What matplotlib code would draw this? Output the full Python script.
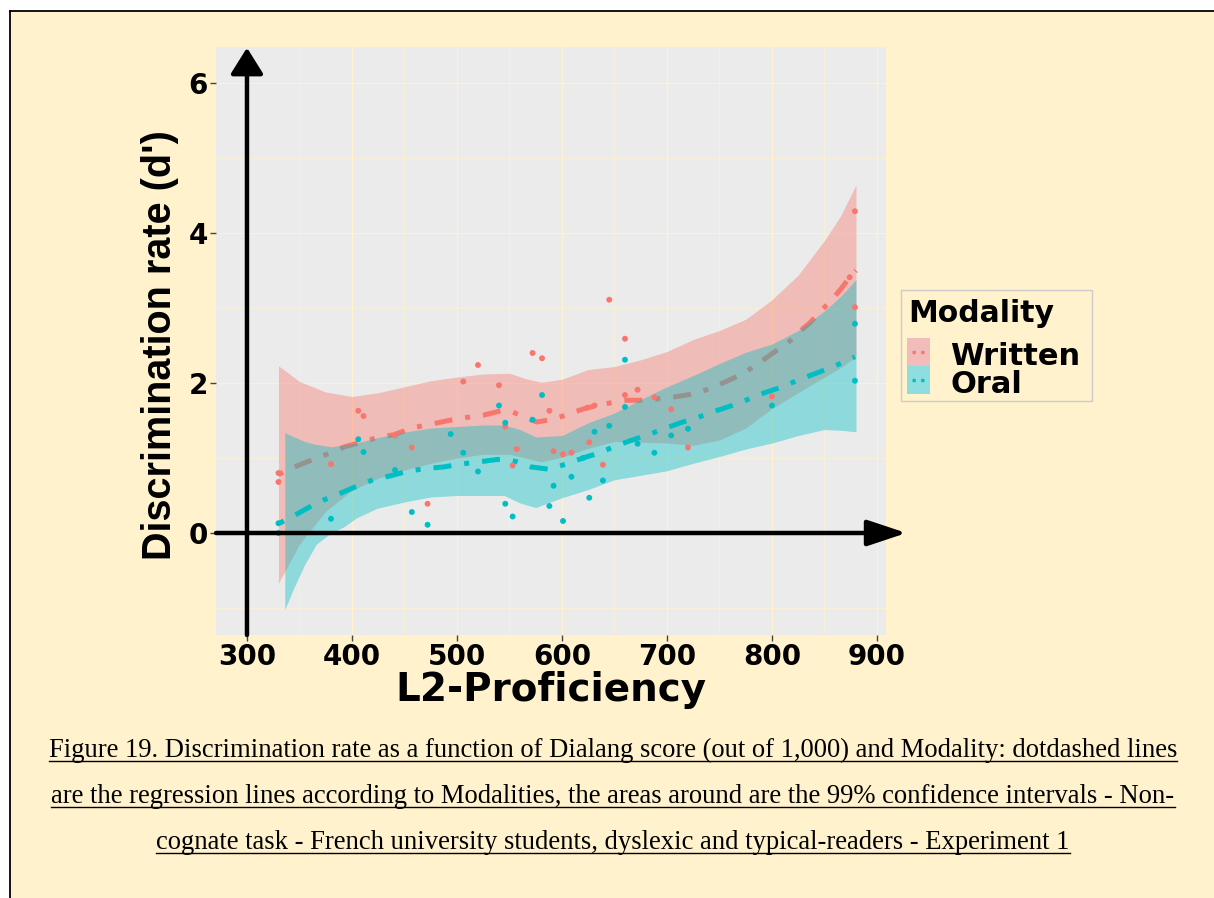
import matplotlib
matplotlib.use('Agg')
import matplotlib.pyplot as plt
from matplotlib import font_manager as fm
from matplotlib.lines import Line2D
from matplotlib.patches import Rectangle

# raw scores: Dialang score (x) vs d' (y), one list per modality
written_x = [330, 330, 380, 406, 411, 441, 457, 472, 506, 520, 540, 546, 553, 557,
             572, 581, 588, 592, 601, 609, 624, 626, 631, 639, 645, 660, 660, 672,
             688, 704, 720, 800, 874, 879, 879]
written_y = [0.68, 0.80, 0.92, 1.63, 1.56, 1.30, 1.14, 0.39, 2.02, 2.24, 1.97, 1.42, 0.90, 1.12,
             2.40, 2.33, 1.63, 1.09, 1.05, 1.07, 1.67, 1.21, 1.70, 0.91, 3.11, 2.59, 1.84, 1.91,
             1.81, 1.65, 1.14, 1.82, 3.41, 4.29, 3.01]
oral_x = [330, 330, 380, 406, 411, 441, 457, 472, 494, 506, 520, 540, 546, 546, 553,
          572, 581, 588, 592, 601, 609, 620, 626, 631, 639, 645, 660, 660, 672,
          688, 704, 720, 800, 879, 879]
oral_y = [0.00, 0.13, 0.19, 1.25, 1.08, 0.84, 0.28, 0.11, 1.32, 1.07, 0.82, 1.70, 1.47, 0.39, 0.22,
          1.51, 1.84, 0.36, 0.63, 0.16, 0.75, 1.00, 0.47, 1.35, 0.70, 1.43, 2.31, 1.68, 1.19,
          1.07, 1.30, 1.39, 1.70, 2.79, 2.03]

# loess fits and 99% bands
written_fit_x = [330, 345, 363, 378, 393, 409, 426, 440, 457, 475, 492, 509, 525, 542, 552,
                 560, 576, 593, 609, 624, 641, 658, 675, 692, 710, 727, 742, 758, 773, 787,
                 801, 814, 824, 836, 846, 857, 866, 874, 880]
written_fit_y = [0.78, 0.88, 0.98, 1.06, 1.15, 1.21, 1.28, 1.31, 1.40, 1.45, 1.50, 1.54, 1.57, 1.63, 1.62,
                 1.57, 1.48, 1.52, 1.60, 1.67, 1.72, 1.77, 1.77, 1.79, 1.82, 1.86, 1.93, 2.03, 2.13, 2.26,
                 2.40, 2.52, 2.66, 2.80, 2.95, 3.11, 3.26, 3.41, 3.50]
written_band_x = [330, 350, 375, 400, 425, 450, 475, 500, 525, 550, 565, 580, 600, 625, 650,
                  675, 700, 725, 750, 775, 800, 825, 850, 865, 880]
written_lo = [-0.67, -0.15, 0.29, 0.57, 0.73, 0.84, 0.93, 1.00, 1.05, 1.05, 1.00, 0.95, 1.01, 1.13, 1.22,
              1.21, 1.20, 1.17, 1.24, 1.40, 1.66, 1.87, 2.08, 2.20, 2.35]
written_hi = [2.23, 2.02, 1.88, 1.82, 1.87, 1.95, 2.03, 2.08, 2.12, 2.13, 2.06, 2.01, 2.05, 2.18, 2.22,
              2.31, 2.42, 2.58, 2.70, 2.85, 3.11, 3.44, 3.90, 4.22, 4.64]

oral_fit_x = [331, 346, 360, 373, 389, 404, 420, 436, 452, 470, 487, 504, 522, 538, 548,
              557, 571, 588, 604, 620, 636, 651, 667, 684, 699, 715, 731, 747, 762, 777,
              793, 810, 825, 842, 857, 873, 879]
oral_fit_y = [0.13, 0.24, 0.35, 0.44, 0.53, 0.62, 0.71, 0.76, 0.82, 0.86, 0.88, 0.92, 0.95, 0.98, 0.98,
              0.95, 0.88, 0.85, 0.92, 1.00, 1.07, 1.16, 1.24, 1.32, 1.40, 1.48, 1.55, 1.63, 1.70, 1.78,
              1.87, 1.95, 2.04, 2.13, 2.21, 2.31, 2.35]
oral_band_x = [336, 345, 355, 366, 380, 392, 404, 424, 452, 475, 500, 525, 545, 560, 575,
               600, 625, 650, 675, 700, 725, 750, 775, 800, 825, 850, 865, 880]
oral_lo = [-1.02, -0.72, -0.42, -0.15, 0.00, 0.08, 0.20, 0.33, 0.42, 0.48, 0.50, 0.50, 0.50, 0.40, 0.34,
           0.47, 0.58, 0.71, 0.77, 0.83, 0.93, 1.02, 1.12, 1.20, 1.30, 1.38, 1.37, 1.35]
oral_hi = [1.34, 1.28, 1.22, 1.18, 1.15, 1.17, 1.20, 1.27, 1.35, 1.40, 1.42, 1.44, 1.44, 1.38, 1.28,
           1.30, 1.47, 1.60, 1.78, 1.95, 2.10, 2.26, 2.41, 2.52, 2.70, 2.96, 3.15, 3.38]

x_ticks = [300, 400, 500, 600, 700, 800, 900]
x_minor = [350, 450, 550, 650, 750, 850]
y_ticks = [0, 2, 4, 6]
y_minor = [-1, 1, 3, 5]
legend_title = 'Modality'
legend_labels = ['Written', 'Oral']
caption = [
    'Figure 19. Discrimination rate as a function of Dialang score (out of 1,000) and Modality: dotdashed lines',
    'are the regression lines according to Modalities, the areas around are the 99% confidence intervals - Non-',
    'cognate task - French university students, dyslexic and typical-readers - Experiment 1',
]

W, H = 1214, 898
BG = '#FFF2CC'
PANEL = '#EBEBEB'
RED = '#F8766D'
CYAN = '#00BFC4'
BOLD = ['DejaVu Sans']
SERIF = ['Liberation Serif', 'DejaVu Serif']

# narrow face for the rotated y title if one is installed
installed = {f.name for f in fm.fontManager.ttflist}
NARROW = [n for n in ['Liberation Sans Narrow', 'Noto Sans Condensed', 'DejaVu Sans Condensed',
                      'Liberation Sans'] if n in installed][:1] + ['DejaVu Sans']


def fx(px):
    return px / W


def fy(py):
    return 1 - py / H


fig = plt.figure(figsize=(W / 100, H / 100), dpi=100)
fig.patch.set_facecolor('white')

# page background and frame lines
fig.add_artist(Rectangle((fx(10), 0), 1 - fx(10), fy(11), transform=fig.transFigure,
                         facecolor=BG, edgecolor='none', zorder=-10))
fig.add_artist(Line2D([fx(10), 1], [fy(11), fy(11)], color='black', lw=1.3))
fig.add_artist(Line2D([fx(10), fx(10)], [fy(11), 0], color='black', lw=1.3))

ax = fig.add_axes([fx(216), fy(635), fx(886) - fx(216), fy(47) - fy(635)])
ax.set_facecolor(PANEL)
for s in ax.spines.values():
    s.set_visible(False)
ax.set_xlim(270.5, 908.6)
ax.set_ylim(-1.36, 6.48)
ax.set_xticks(x_ticks)
ax.set_xticks(x_minor, minor=True)
ax.set_yticks(y_ticks)
ax.set_yticks(y_minor, minor=True)
ax.grid(which='major', color=BG, lw=0.9)
ax.grid(which='minor', color=BG, lw=0.45)
ax.set_axisbelow(True)
ax.tick_params(which='major', length=4, width=1, color='#444444', pad=2, labelsize=20)
ax.tick_params(which='minor', length=0)
for lab in ax.get_xticklabels() + ax.get_yticklabels():
    lab.set_fontweight('bold')
    lab.set_family(BOLD)

dash = (0, (1, 2.6, 3.6, 2.6))

ax.fill_between(written_band_x, written_lo, written_hi, color=RED, alpha=0.4, lw=0, zorder=1)
ax.plot(written_fit_x, written_fit_y, color=RED, lw=3.6, ls=dash, dash_capstyle='butt', zorder=2)
ax.fill_between(oral_band_x, oral_lo, oral_hi, color=CYAN, alpha=0.4, lw=0, zorder=3)
ax.plot(oral_fit_x, oral_fit_y, color=CYAN, lw=3.6, ls=dash, dash_capstyle='butt', zorder=4)

ax.scatter(written_x, written_y, s=18, color=RED, edgecolors='none', zorder=5)
ax.scatter(oral_x, oral_y, s=18, color=CYAN, edgecolors='none', zorder=5)

# black axis arrows
ax.annotate('', xy=(300, 6.47), xytext=(300, -1.36), annotation_clip=False, zorder=6,
            arrowprops=dict(arrowstyle='-|>,head_length=0.8,head_width=0.5', color='black',
                            lw=3.2, shrinkA=0, shrinkB=0, mutation_scale=20))
ax.annotate('', xy=(928, 0), xytext=(270.5, 0), annotation_clip=False, zorder=6,
            arrowprops=dict(arrowstyle='-|>,head_length=1.2,head_width=0.4', color='black',
                            lw=3.2, shrinkA=0, shrinkB=0, mutation_scale=20))

ax.set_xlabel('L2-Proficiency', fontsize=28, fontweight='bold', family=BOLD)
ax.xaxis.set_label_coords(0.5, -0.062)
ylab = ax.set_ylabel("Discrimination rate (d')", fontsize=30, fontweight='bold', family=NARROW)
ax.yaxis.set_label_coords(-0.055, 0.493)

# legend
fig.add_artist(Rectangle((fx(901), fy(401)), fx(1092) - fx(901), fy(290) - fy(401),
                         transform=fig.transFigure, facecolor=BG, edgecolor='#CCCCCC', lw=1))
fig.text(fx(908), fy(322), legend_title, fontsize=21.5, fontweight='bold', family=BOLD,
         va='baseline', ha='left')
key_fill = ['#F2BCBA', '#8EDDDF']
key_line = [RED, CYAN]
key_top = [338, 366]
for lab, kf, kl, kt in zip(legend_labels, key_fill, key_line, key_top):
    fig.add_artist(Rectangle((fx(907), fy(kt + 28)), fx(930) - fx(907), fy(kt) - fy(kt + 28),
                             transform=fig.transFigure, facecolor=kf, edgecolor='none'))
    fig.add_artist(Line2D([fx(912), fx(927)], [fy(kt + 14)] * 2, color=kl, lw=2.4,
                          ls=(0, (1, 1.6)), dash_capstyle='butt'))
    fig.text(fx(950), fy(kt + 27), lab, fontsize=22, fontweight='bold', family=BOLD,
             va='baseline', ha='left')

r = fig.canvas.get_renderer()

# fit the y title to its length in the reference (about 430 px)
ylab.set_fontsize(30 * 430 / ylab.get_window_extent(r).height)

# caption, underlined
caps = []
for i, line in enumerate(caption):
    t = fig.text(fx(613), fy(757 + 46 * i), line, fontsize=18, family=SERIF,
                 va='baseline', ha='center')
    caps.append(t)
w0 = caps[0].get_window_extent(r).width
size = 18 * 1133 / w0
for i, t in enumerate(caps):
    t.set_fontsize(size)
    bb = t.get_window_extent(r)
    yl = fy(757 + 46 * i + 4)
    fig.add_artist(Line2D([bb.x0 / W, bb.x1 / W], [yl, yl], color='black', lw=1.0))

fig.savefig('out.png', dpi=100, facecolor=fig.get_facecolor())
